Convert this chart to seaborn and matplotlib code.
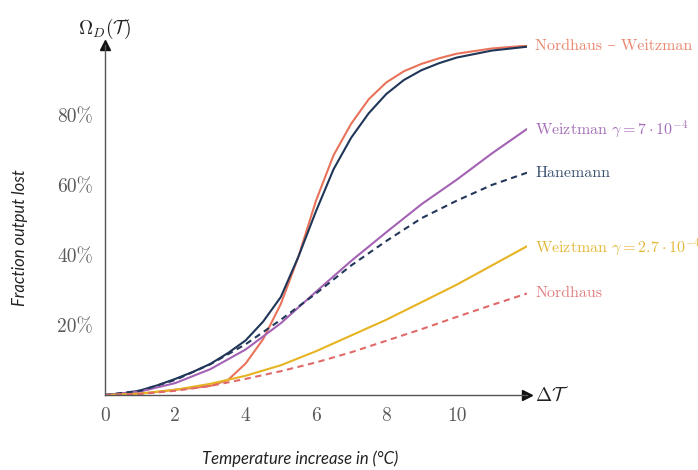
import numpy as np
import pandas as pd
import seaborn as sns
import matplotlib.pyplot as plt

# ===== data =====
x_fine = [0, 0.5, 1, 1.5, 2, 2.5, 3, 3.5, 4, 4.5, 5, 5.5, 6, 6.5, 7, 7.5, 8, 8.5, 9, 9.5, 10, 11, 12]
nordhaus_weitzman = [0, 0.1, 0.4, 0.9, 1.5, 2.0, 2.6, 4.3, 9.0, 16.0, 26.0, 39.5, 55.5, 68.5, 77.5, 84.5, 89.3, 92.5, 94.6, 96.2, 97.5, 99.0, 99.8]
hanemann_solid = [0, 0.4, 1.3, 2.8, 4.6, 6.6, 8.9, 12.0, 15.6, 21.0, 28.0, 39.5, 52.5, 64.5, 73.5, 80.5, 86.0, 90.0, 92.8, 94.8, 96.4, 98.4, 99.5]

x_coarse = [0, 1, 2, 3, 4, 5, 6, 7, 8, 9, 10, 11, 12]
weitzman_7 = [0, 1.0, 3.4, 7.4, 13.0, 20.5, 29.5, 38.3, 46.5, 54.5, 61.5, 69.0, 76.0]
hanemann = [0, 1.2, 4.3, 8.8, 14.5, 21.5, 29.0, 37.0, 44.0, 50.5, 55.5, 60.0, 63.5]
weitzman_27 = [0, 0.4, 1.5, 3.2, 5.5, 8.5, 12.5, 17.0, 21.5, 26.5, 31.5, 37.0, 42.5]
nordhaus = [0, 0.3, 1.2, 2.6, 4.6, 6.8, 9.3, 12.2, 15.5, 18.8, 22.3, 25.7, 29.0]

y_ticks = [20, 40, 60, 80]
x_ticks = [0, 2, 4, 6, 8, 10]

labels = {
    "nw": "Nordhaus – Weitzman",
    "w7": r"Weiztman $\gamma = 7\cdot10^{-4}$",
    "han": "Hanemann",
    "w27": r"Weiztman $\gamma = 2.7\cdot10^{-4}$",
    "nord": "Nordhaus",
}

# ===== style =====
sns.set_style("white")
plt.rcParams["mathtext.fontset"] = "cm"
plt.rcParams["axes.unicode_minus"] = False
serif = ["cmr10", "DejaVu Serif"]

fig = plt.figure(figsize=(6.98, 4.70), dpi=100)
ax = fig.add_axes([0.1504, 0.1596, 0.6046, 0.7447])

series = [
    # key, x, y, line colour, text colour, dashed
    ("nw", x_fine, nordhaus_weitzman, "#e8735a", "#e8866e", False),
    (None, x_fine, hanemann_solid, "#1f3658", None, False),
    ("w7", x_coarse, weitzman_7, "#a362b3", "#a56fb8", False),
    ("han", x_coarse, hanemann, "#22375a", "#3a5272", True),
    ("w27", x_coarse, weitzman_27, "#e6b422", "#e3b83a", False),
    ("nord", x_coarse, nordhaus, "#e06a6a", "#e07f7f", True),
]

for key, xs, ys, col, tcol, dashed in series:
    sns.lineplot(x=xs, y=ys, ax=ax, color=col, linewidth=1.5,
                 linestyle=(0, (3, 2.2)) if dashed else "-")
    if key is not None:
        ax.annotate(labels[key], xy=(xs[-1], ys[-1]), xytext=(6, 0),
                    textcoords="offset points", ha="left", va="center",
                    color=tcol, fontsize=11.5, family=serif,
                    annotation_clip=False)

ax.set_xlim(0, 12)
ax.set_ylim(0, 100)

for s in ["top", "right"]:
    ax.spines[s].set_visible(False)
for s in ["left", "bottom"]:
    ax.spines[s].set_color("#555555")
    ax.spines[s].set_linewidth(1.0)

# arrow heads on the axes
ax.plot(1, 0, ">", color="#111111", markersize=7, transform=ax.transAxes, clip_on=False)
ax.plot(0, 1, "^", color="#111111", markersize=7, transform=ax.transAxes, clip_on=False)

ax.set_xticks(x_ticks)
ax.set_xticklabels([str(v) for v in x_ticks])
ax.set_yticks(y_ticks)
ax.set_yticklabels([f"{v}%" for v in y_ticks])
ax.tick_params(axis="both", direction="inout", length=5, width=0.9,
               color="#555555", labelcolor="#5a5a5a", labelsize=14, pad=6)
for lab in ax.get_xticklabels() + ax.get_yticklabels():
    lab.set_family(serif)

ax.set_xlabel("")
ax.set_ylabel("")

# axis symbols at the arrow tips
ax.text(1.02, 0, r"$\Delta\mathcal{T}$", transform=ax.transAxes,
        ha="left", va="center", fontsize=14, color="#222222")
ax.text(0, 1.045, r"$\Omega_D(\mathcal{T})$", transform=ax.transAxes,
        ha="center", va="center", fontsize=14, color="#222222")

# descriptive labels
fig.text(0.029, 0.495, "Fraction output lost", rotation=90, ha="center", va="center",
         fontsize=12, style="italic", family="Lato", color="#222222")
fig.text(0.43, 0.025, "Temperature increase in (°C)", ha="center", va="center",
         fontsize=12, style="italic", family="Lato", color="#222222")

fig.savefig("out.png", dpi=100)
